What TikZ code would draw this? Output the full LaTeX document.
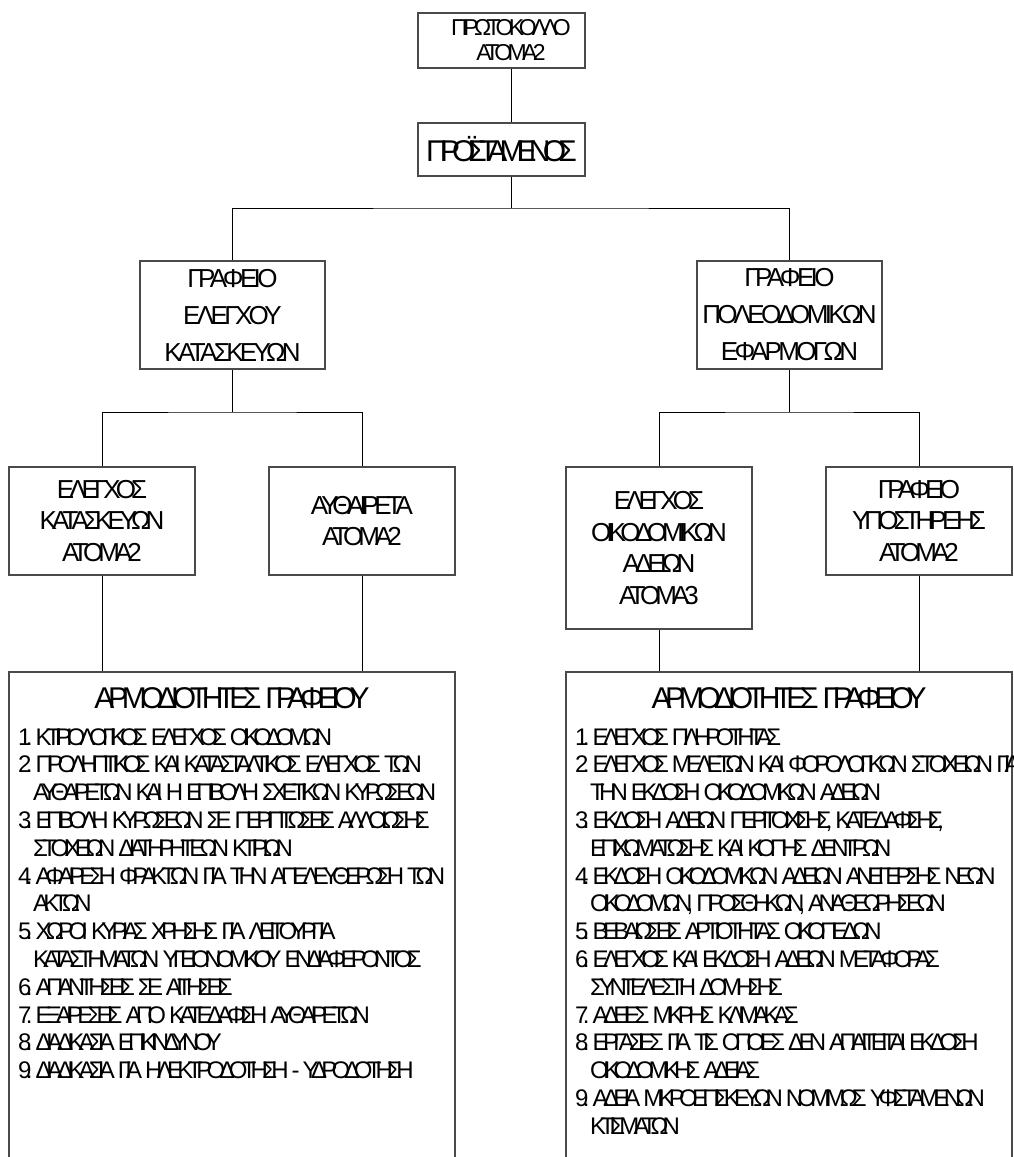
\documentclass[tikz,border=0pt]{standalone}
\usepackage{fontspec}
\setmainfont{Liberation Sans}
\newfontfamily\fTop[LetterSpace=-20]{Liberation Sans}
\newfontfamily\fPro[LetterSpace=-26]{Liberation Sans}
\newfontfamily\fOff[LetterSpace=-14]{Liberation Sans}
\newfontfamily\fSub[LetterSpace=-19]{Liberation Sans}
\newfontfamily\fTitle[LetterSpace=-21]{Liberation Sans}
\newfontfamily\fItem[LetterSpace=-24]{Liberation Sans}
\newcommand\TitleFont{\fTitle\fontsize{30}{34}\selectfont\spaceskip 4pt\relax}
\newcommand\ItemFont{\fItem\fontsize{24}{27.8}\selectfont\spaceskip 3pt\relax}
\definecolor{boxgray}{HTML}{4A4A4A}
\begin{document}
\begin{tikzpicture}[x=1pt,y=-1pt,
  orgbox/.style={draw=boxgray, line width=1.3pt, inner sep=0pt, align=center},
  conn/.style={draw=black, line width=1pt},
  listline/.style={draw=boxgray, line width=1.3pt},
  topfont/.style={font=\fTop\fontsize{23}{25}\selectfont},
  profont/.style={font=\fPro\fontsize{30}{32}\selectfont},
  offfont/.style={font=\fOff\fontsize{26}{37}\selectfont},
  subfont/.style={font=\fSub\fontsize{26}{31.5}\selectfont},
  titlefont/.style={font=\TitleFont},
  itemfont/.style={font=\ItemFont, anchor=base west, inner sep=0pt}]
\useasboundingbox (0,0) rectangle (1013,1157);
\path[fill=white] (0,0) rectangle (1013,1157);

% top levels
\node[orgbox, topfont, minimum width=167, minimum height=55] (top) at (501.5,40.5)
  {\hspace*{19pt}ΠΡΩΤΟΚΟΛΛΟ\\\hspace*{19pt}ΑΤΟΜΑ2};
\node[orgbox, profont, minimum width=167, minimum height=53] (pro) at (501.5,149.5) {ΠΡΟΪΣΤΑΜΕΝΟΣ};

% offices
\node[orgbox, offfont, minimum width=185, minimum height=108] (offL) at (232.5,315)
  {ΓΡΑΦΕΙΟ\\ΕΛΕΓΧΟΥ\\ΚΑΤΑΣΚΕΥΩΝ};
\node[orgbox, offfont, minimum width=185, minimum height=108] (offR) at (789.5,315)
  {ΓΡΑΦΕΙΟ\\ΠΟΛΕΟΔΟΜΙΚΩΝ\\ΕΦΑΡΜΟΓΩΝ};

% sub units
\node[orgbox, subfont, minimum width=186, minimum height=108] (subL1) at (102,521)
  {ΕΛΕΓΧΟΣ\\ΚΑΤΑΣΚΕΥΩΝ\\ΑΤΟΜΑ2};
\node[orgbox, subfont, minimum width=186, minimum height=108] (subL2) at (362,521)
  {ΑΥΘΑΙΡΕΤΑ\\ΑΤΟΜΑ2};
\node[orgbox, subfont, minimum width=186, minimum height=162] (subR1) at (659,548)
  {ΕΛΕΓΧΟΣ\\ΟΙΚΟΔΟΜΙΚΩΝ\\ΑΔΕΙΩΝ\\ΑΤΟΜΑ3};
\node[orgbox, subfont, minimum width=186, minimum height=108] (subR2) at (919,521)
  {ΓΡΑΦΕΙΟ\\ΥΠΟΣΤΗΡΙΞΗΣ\\ΑΤΟΜΑ2};

% junction coordinates
\coordinate (spine) at (511,0);
\coordinate (j1) at (511,208);
\coordinate (j2L) at (232.5,412);
\coordinate (j2R) at (789.5,412);
\coordinate (listL) at (232,672);
\coordinate (listR) at (789,672);

% connectors
\draw[conn] (top.south -| spine) -- (pro.north -| spine);
\draw[conn] (pro.south -| spine) -- (j1);
\draw[conn] (offL.north) |- (j1) -| (offR.north);
\draw[conn] (offL.south) -- (j2L);
\draw[conn] (subL1.north) |- (j2L) -| (subL2.north);
\draw[conn] (offR.south) -- (j2R);
\draw[conn] (subR1.north) |- (j2R) -| (subR2.north);
\draw[conn] (subL1.south) -- (subL1.south |- listL);
\draw[conn] (subL2.south) -- (subL2.south |- listL);
\draw[conn] (subR1.south) -- (subR1.south |- listR);
\draw[conn] (subR2.south) -- (subR2.south |- listR);

% list boxes (open at the bottom edge)
\draw[listline] (9,1157) -- (9,672) -- (455,672) -- (455,1157);
\draw[listline] (566,1157) -- (566,672) -- (1012,672) -- (1012,1157);

\node[titlefont] (titleL) at (232,698) {ΑΡΜΟΔΙΟΤΗΤΕΣ ΓΡΑΦΕΙΟΥ};
\node[titlefont] (titleR) at (789,698) {ΑΡΜΟΔΙΟΤΗΤΕΣ ΓΡΑΦΕΙΟΥ};

\foreach \xx/\t [count=\k from 0] in {
  18/{1. ΚΤΙΡΙΟΛΟΓΙΚΟΣ ΕΛΕΓΧΟΣ ΟΙΚΟΔΟΜΩΝ},
  18/{2. ΠΡΟΛΗΠΤΙΚΟΣ ΚΑΙ ΚΑΤΑΣΤΑΛΤΙΚΟΣ ΕΛΕΓΧΟΣ ΤΩΝ},
  33/{ΑΥΘΑΙΡΕΤΩΝ ΚΑΙ Η ΕΠΙΒΟΛΗ ΣΧΕΤΙΚΩΝ ΚΥΡΩΣΕΩΝ},
  18/{3. ΕΠΙΒΟΛΗ ΚΥΡΩΣΕΩΝ ΣΕ ΠΕΡΙΠΤΩΣΕΙΣ ΑΛΛΟΙΩΣΗΣ},
  33/{ΣΤΟΙΧΕΙΩΝ ΔΙΑΤΗΡΗΤΕΩΝ ΚΤΙΡΙΩΝ},
  18/{4. ΑΦΑΙΡΕΣΗ ΦΡΑΚΤΩΝ ΓΙΑ ΤΗΝ ΑΠΕΛΕΥΘΕΡΩΣΗ ΤΩΝ},
  33/{ΑΚΤΩΝ},
  18/{5. ΧΩΡΟΙ ΚΥΡΙΑΣ ΧΡΗΣΗΣ ΓΙΑ ΛΕΙΤΟΥΡΓΙΑ},
  33/{ΚΑΤΑΣΤΗΜΑΤΩΝ ΥΓΕΙΟΝΟΜΙΚΟΥ ΕΝΔΙΑΦΕΡΟΝΤΟΣ},
  18/{6. ΑΠΑΝΤΗΣΕΙΣ ΣΕ ΑΙΤΗΣΕΙΣ},
  18/{7. ΕΞΑΙΡΕΣΕΙΣ ΑΠΟ ΚΑΤΕΔΑΦΙΣΗ ΑΥΘΑΙΡΕΤΩΝ},
  18/{8. ΔΙΑΔΙΚΑΣΙΑ ΕΠΙΚΙΝΔΥΝΟΥ},
  18/{9. ΔΙΑΔΙΚΑΣΙΑ ΓΙΑ ΗΛΕΚΤΡΟΔΟΤΗΣΗ - ΥΔΡΟΔΟΤΗΣΗ}}
  \node[itemfont] (L\k) at (\xx, 745+27.8*\k) {\t};

\foreach \xx/\t [count=\k from 0] in {
  575/{1. ΕΛΕΓΧΟΣ ΠΛΗΡΟΤΗΤΑΣ},
  575/{2. ΕΛΕΓΧΟΣ ΜΕΛΕΤΩΝ ΚΑΙ ΦΟΡΟΛΟΓΙΚΩΝ ΣΤΟΙΧΕΙΩΝ ΓΙΑ},
  590/{ΤΗΝ ΕΚΔΟΣΗ ΟΙΚΟΔΟΜΙΚΩΝ ΑΔΕΙΩΝ},
  575/{3. ΕΚΔΟΣΗ ΑΔΕΙΩΝ ΠΕΡΙΤΟΙΧΙΣΗΣ, ΚΑΤΕΔΑΦΙΣΗΣ,},
  590/{ΕΠΙΧΩΜΑΤΩΣΗΣ ΚΑΙ ΚΟΠΗΣ ΔΕΝΤΡΩΝ},
  575/{4. ΕΚΔΟΣΗ ΟΙΚΟΔΟΜΙΚΩΝ ΑΔΕΙΩΝ ΑΝΕΓΕΡΣΗΣ ΝΕΩΝ},
  590/{ΟΙΚΟΔΟΜΩΝ, ΠΡΟΣΘΗΚΩΝ, ΑΝΑΘΕΩΡΗΣΕΩΝ},
  575/{5. ΒΕΒΑΙΩΣΕΙΣ ΑΡΤΙΟΤΗΤΑΣ ΟΙΚΟΠΕΔΩΝ},
  575/{6. ΕΛΕΓΧΟΣ ΚΑΙ ΕΚΔΟΣΗ ΑΔΕΙΩΝ ΜΕΤΑΦΟΡΑΣ},
  590/{ΣΥΝΤΕΛΕΣΤΗ ΔΟΜΗΣΗΣ},
  575/{7. ΑΔΕΙΕΣ ΜΙΚΡΗΣ ΚΛΙΜΑΚΑΣ},
  575/{8. ΕΡΓΑΣΙΕΣ ΓΙΑ ΤΙΣ ΟΠΟΙΕΣ ΔΕΝ ΑΠΑΙΤΕΙΤΑΙ ΕΚΔΟΣΗ},
  590/{ΟΙΚΟΔΟΜΙΚΗΣ ΑΔΕΙΑΣ},
  575/{9. ΑΔΕΙΑ ΜΙΚΡΟΕΠΙΣΚΕΥΩΝ ΝΟΜΙΜΩΣ ΥΦΙΣΤΑΜΕΝΩΝ},
  590/{ΚΤΙΣΜΑΤΩΝ}}
  \node[itemfont] (R\k) at (\xx, 745+27.8*\k) {\t};
\end{tikzpicture}
\end{document}
